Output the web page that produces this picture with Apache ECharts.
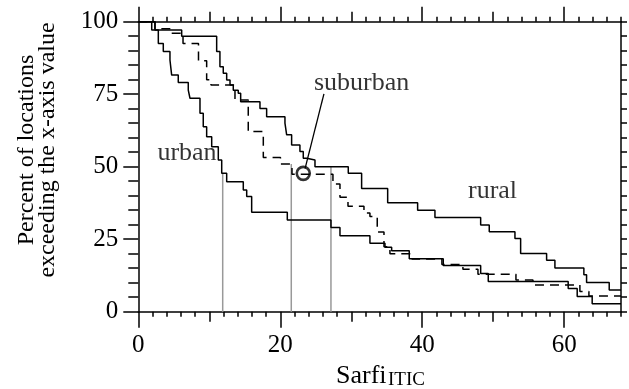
<!DOCTYPE html>
<html><head><meta charset="utf-8">
<script src="https://cdn.jsdelivr.net/npm/echarts@6/dist/echarts.min.js"></script>
<style>html,body{margin:0;padding:0;background:#fff}#c{width:629px;height:389px}</style>
</head><body><div id="c"></div>
<script>
// ---- data ----
const urbanX = [0, 2.35, 2.82, 3.52, 4.46, 4.70, 5.63, 7.04, 7.28, 8.69, 9.15, 9.63, 10.34, 11.27, 11.75, 12.45, 14.79, 15.27, 15.97, 20.99, 27.14, 28.41, 32.63, 34.75, 35.69, 38.17, 42.96, 48.23, 49.30, 60.56, 61.83, 63.94, 68];
const urbanY = [100, 97.1, 92.5, 89.7, 86.8, 81.6, 79.0, 76.4, 73.6, 68.4, 63.8, 60.3, 56.9, 52.3, 47.7, 44.8, 42.0, 39.7, 34.3, 31.6, 29.0, 26.2, 23.6, 22.2, 21.0, 18.3, 15.9, 13.2, 10.4, 8.0, 5.2, 2.7, 2.7];
const suburbanX = [0, 2.35, 4.61, 6.30, 8.48, 9.63, 10.24, 13.62, 15.49, 17.61, 20.03, 21.65, 27.42, 28.41, 29.54, 31.79, 32.63, 33.66, 34.61, 35.45, 38.55, 42.77, 45.73, 47.85, 53.20, 55.60, 62.21, 63.48, 68];
const suburbanY = [100, 97.6, 96.0, 92.5, 86.5, 80.0, 78.2, 73.0, 62.1, 53.2, 50.9, 47.4, 44.0, 39.5, 36.4, 34.0, 32.8, 27.5, 22.4, 20.0, 18.2, 16.3, 14.6, 12.9, 10.9, 9.2, 7.0, 5.4, 5.4];
const ruralX = [0, 1.89, 6.11, 11.04, 11.50, 11.97, 12.45, 12.92, 13.38, 14.08, 14.42, 17.14, 18.08, 20.66, 20.90, 21.60, 22.77, 23.24, 23.72, 24.89, 29.58, 31.46, 35.13, 39.35, 41.79, 48.23, 49.44, 53.06, 53.86, 57.52, 58.69, 62.77, 63.15, 66.34, 68];
const ruralY = [100, 97.1, 95.0, 89.7, 84.5, 82.2, 79.9, 78.2, 76.4, 75.3, 72.4, 70.1, 67.2, 65.0, 61.0, 57.5, 55.2, 52.9, 52.3, 50.0, 47.7, 42.5, 37.6, 35.0, 32.5, 29.9, 27.6, 25.2, 20.1, 17.7, 15.1, 12.7, 10.1, 7.5, 7.5];
const medianX = [11.89, 21.55, 27.14];
const medianTop = [47.7, 50.9, 50.0];
const markerPoint = [23.24, 47.7];
const pointerLine = [[23.5, 49.4], [26.15, 75.1]];
const curveNames = ['urban', 'suburban', 'rural'];
const curveLabelX = [6.86, 31.46, 49.9];
const curveLabelY = [54.7, 78.9, 41.5];
const xTickLabels = [0, 20, 40, 60];
const xMidTicks = [0, 10, 20, 30, 40, 50, 60];
const yTickLabels = [0, 25, 50, 75, 100];

// ---- chart ----
const FONT = '"Liberation Serif", "Times New Roman", serif';
const zip = (xs, ys) => xs.map((x, i) => [x, ys[i]]);
const chart = echarts.init(document.getElementById('c'), null, {renderer: 'canvas'});
const lineBlack = {color: '#000', width: 1.5};

function xAx(pos, opts) {
  return Object.assign({
    type: 'value', position: pos, min: 0, max: 68,
    axisLine: {show: false, onZero: false, lineStyle: lineBlack},
    splitLine: {show: false},
    axisLabel: {show: false},
    axisTick: {show: true, inside: false, lineStyle: lineBlack}
  }, opts);
}
function yAx(pos, opts) {
  return Object.assign({
    type: 'value', position: pos, min: 0, max: 100,
    axisLine: {show: false, onZero: false, lineStyle: lineBlack},
    splitLine: {show: false},
    axisLabel: {show: false},
    axisTick: {show: true, inside: false, lineStyle: lineBlack}
  }, opts);
}

const xAxes = [
  xAx('bottom', {interval: 2, axisLine: {show: true, onZero: false, lineStyle: lineBlack}, axisTick: {show: true, length: 5, lineStyle: lineBlack}}),
  xAx('bottom', {interval: 10, axisTick: {show: true, length: 10, customValues: xMidTicks, lineStyle: lineBlack}}),
  xAx('bottom', {interval: 20, axisTick: {show: true, length: 16, customValues: xTickLabels, lineStyle: lineBlack},
    axisLabel: {show: true, customValues: xTickLabels, margin: 21, color: '#000', fontSize: 25, fontFamily: FONT}}),
  xAx('top', {interval: 2, axisLine: {show: true, onZero: false, lineStyle: lineBlack}, axisTick: {show: true, length: 5, lineStyle: lineBlack}}),
  xAx('top', {interval: 10, axisTick: {show: true, length: 10, customValues: xMidTicks, lineStyle: lineBlack}}),
  xAx('top', {interval: 20, axisTick: {show: true, length: 15, customValues: xTickLabels, lineStyle: lineBlack}})
];
const yAxes = [
  yAx('left', {interval: 5, axisLine: {show: true, onZero: false, lineStyle: lineBlack}, axisTick: {show: true, length: 10, lineStyle: lineBlack}}),
  yAx('left', {interval: 25, axisTick: {show: true, length: 15, lineStyle: lineBlack},
    axisLabel: {show: true, margin: 20, color: '#000', fontSize: 25, fontFamily: FONT}}),
  yAx('right', {interval: 5, axisLine: {show: true, onZero: false, lineStyle: lineBlack}, axisTick: {show: true, length: 6, lineStyle: lineBlack}})
];

const series = [];
medianX.forEach((x, i) => {
  series.push({type: 'line', data: [[x, 0], [x, medianTop[i]]], symbol: 'none',
    lineStyle: {color: '#999', width: 1.5}, z: 1, silent: true});
});
series.push({name: 'urban', type: 'line', step: 'end', data: zip(urbanX, urbanY), symbol: 'none', lineStyle: {color: '#000', width: 1.5}, z: 3});
series.push({name: 'suburban', type: 'line', step: 'end', data: zip(suburbanX, suburbanY), symbol: 'none', lineStyle: {color: '#000', width: 1.5, type: [9, 6]}, z: 3});
series.push({name: 'rural', type: 'line', step: 'end', data: zip(ruralX, ruralY), symbol: 'none', lineStyle: {color: '#000', width: 1.5}, z: 3});
series.push({type: 'line', data: pointerLine, symbol: 'none', lineStyle: {color: '#000', width: 1.3}, z: 4});
series.push({type: 'scatter', data: [markerPoint], symbol: 'circle', symbolSize: 13,
  itemStyle: {color: 'rgba(255,255,255,0)', borderColor: '#000', borderWidth: 2.6}, z: 5});
series.push({type: 'scatter', symbolSize: 1, itemStyle: {color: 'rgba(0,0,0,0)'}, z: 6,
  data: curveNames.map((n, i) => ({name: n, value: [curveLabelX[i], curveLabelY[i]]})),
  label: {show: true, position: 'inside', formatter: '{b}', color: '#000', fontSize: 26, fontFamily: FONT}});

chart.setOption({
  animation: false,
  backgroundColor: '#fff',
  grid: {left: 138.3, top: 21.7, right: 8, bottom: 77.3, containLabel: false},
  xAxis: xAxes,
  yAxis: yAxes,
  series: series,
  graphic: [
    {type: 'text', x: 37.5, y: 150, rotation: Math.PI / 2,
      style: {text: 'Percent of locations\nexceeding the x-axis value', fontSize: 24, fontFamily: FONT, fill: '#000',
        align: 'center', verticalAlign: 'middle', lineHeight: 21}},
    {type: 'text', x: 336, y: 376, style: {text: 'Sarfi', fontSize: 26, fontFamily: FONT, fill: '#000', align: 'left', verticalAlign: 'middle'}},
    {type: 'text', x: 388, y: 380.5, style: {text: 'ITIC', fontSize: 19, fontFamily: FONT, fill: '#000', align: 'left', verticalAlign: 'middle'}}
  ]
});
</script></body></html>
